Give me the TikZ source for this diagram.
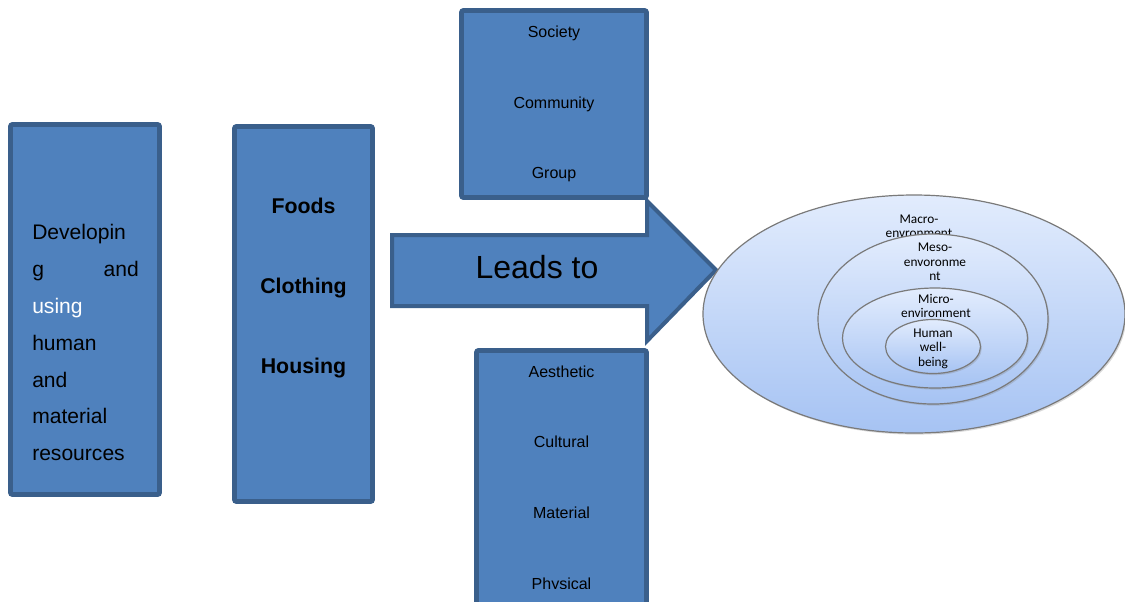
\documentclass[tikz,border=0pt]{standalone}
\usepackage{fontspec}
\setmainfont{Liberation Sans}
\newfontfamily\calfont{Carlito}
\usetikzlibrary{shapes.geometric,shadows}
\definecolor{boxfill}{HTML}{4F81BD}
\definecolor{boxline}{HTML}{3A5F8B}
\definecolor{elltop}{HTML}{E2ECFD}
\definecolor{ellbot}{HTML}{A6C3F3}
\definecolor{ellline}{HTML}{7A7A7A}
\begin{document}
\begin{tikzpicture}[x=0.75pt,y=-0.75pt,
  bluebox/.style={draw=boxline, fill=boxfill, line width=3.6pt, rounded corners=1.5pt, inner sep=0pt},
  envell/.style={ellipse, draw=ellline, line width=0.9pt, top color=elltop, bottom color=ellbot, inner sep=0pt,
    drop shadow={opacity=0.3, shadow xshift=1pt, shadow yshift=-1.2pt}},
  boxtxt/.style={font=\fontsize{12}{14}\selectfont, anchor=base, inner sep=0pt},
  lefttxt/.style={font=\fontsize{15.8}{18}\selectfont, inner sep=0pt},
  boldtxt/.style={font=\fontsize{16}{18}\selectfont\bfseries, anchor=base, inner sep=0pt},
  elltxt/.style={font=\calfont\fontsize{10}{12}\selectfont, anchor=base, inner sep=0pt}]
\useasboundingbox (0,0) rectangle (1125,601);
\clip (0,0) rectangle (1125,601);

% left box
\node (devbox) [bluebox, minimum width=111.75pt, minimum height=277.5pt] at (85,309.5) {};
\node (d1) [lefttxt, anchor=base west] at (32,239) {Developin};
\node (d2a) [lefttxt, anchor=base west] at (32,276) {g};
\node (d2b) [lefttxt, anchor=base east] at (139,276) {and};
\node (d3) [lefttxt, anchor=base west, text=white] at (32,313) {using};
\node (d4) [lefttxt, anchor=base west] at (32,350) {human};
\node (d5) [lefttxt, anchor=base west] at (32,387) {and};
\node (d6) [lefttxt, anchor=base west] at (32,423) {material};
\node (d7) [lefttxt, anchor=base west] at (32,460) {resources};

% second box
\node (fchbox) [bluebox, minimum width=103.5pt, minimum height=281.25pt] at (303.5,314) {};
\node (foods) [boldtxt] at (303.5,213) {Foods};
\node (clothing) [boldtxt] at (303.5,293) {Clothing};
\node (housing) [boldtxt] at (303.5,373) {Housing};

% top box
\node (topbox) [bluebox, minimum width=138.75pt, minimum height=140.25pt] at (554,104) {};
\node (society) [boxtxt] at (554,37) {Society};
\node (community) [boxtxt] at (554,108) {Community};
\node (group) [boxtxt] at (554,178) {Group};

% bottom box
\node (botbox) [bluebox, minimum width=127.5pt, minimum height=202.5pt] at (561.5,485.5) {};
\node (aesthetic) [boxtxt] at (561.5,377) {Aesthetic};
\node (cultural) [boxtxt] at (561.5,447) {Cultural};
\node (material) [boxtxt] at (561.5,518) {Material};
\begin{scope}
  \clip (480,560) rectangle (640,588.5);
  \node (physical) [boxtxt] at (561.5,589) {Physical};
\end{scope}

% arrow
\draw[draw=boxline, fill=boxfill, line width=3pt, line join=miter]
  (392,235) -- (647,235) -- (647,201) -- (716,270) -- (647,341) -- (647,306) -- (392,306) -- cycle;
\node (leads) [font=\fontsize{24}{28}\selectfont, anchor=base, inner sep=0pt] at (537,278) {Leads to};

% ellipses
\node (macro) [envell, minimum width=316.5pt, minimum height=178.5pt] at (914,314) {};
\node (ma1) [elltxt] at (919,223) {Macro-};
\node (ma2) [elltxt] at (919,237.5) {envronment};
\node (meso) [envell, minimum width=172.5pt, minimum height=127.5pt] at (933,319) {};
\node (me1) [elltxt] at (935,251.5) {Meso-};
\node (me2) [elltxt] at (935,266) {envoronme};
\node (me3) [elltxt] at (935,280.5) {nt};
\node (micro) [envell, minimum width=138.75pt, minimum height=75pt] at (935,338) {};
\node (mi1) [elltxt] at (936,303) {Micro-};
\node (mi2) [elltxt] at (936,317.5) {environment};
\node (human) [envell, minimum width=71.25pt, minimum height=40.5pt] at (933,346.5) {};
\node (hu1) [elltxt] at (933,337) {Human};
\node (hu2) [elltxt] at (933,351.5) {well-};
\node (hu3) [elltxt] at (933,366) {being};
\end{tikzpicture}
\end{document}
